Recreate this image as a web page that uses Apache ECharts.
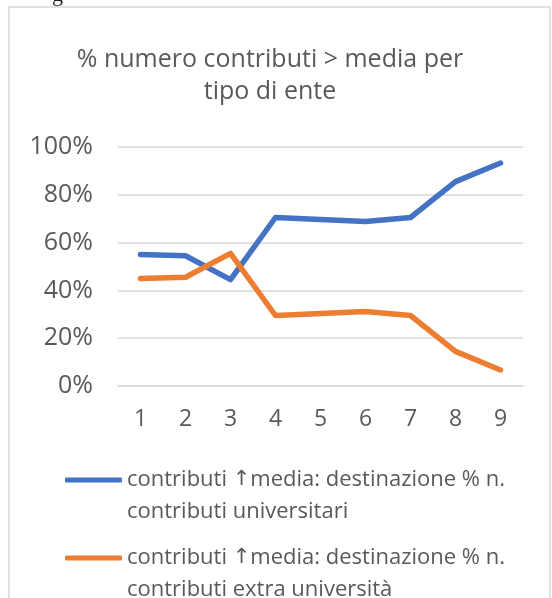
<!DOCTYPE html>
<html>
<head>
<meta charset="utf-8">
<script src="https://cdn.jsdelivr.net/npm/echarts@6/dist/echarts.min.js"></script>
<style>
    html, body { margin: 0; padding: 0; background: #fff; }
    #main { width: 552px; height: 598px; }
</style>
</head>
<body>
<div id="main"></div>
<script>
// categorie asse x
const categories = ['1', '2', '3', '4', '5', '6', '7', '8', '9']
// % universitari / extra università
const universitari = [55, 54.5, 44.5, 70.5, 69.7, 68.8, 70.5, 85.5, 93.3]
const extraUniversita = [45, 45.5, 55.5, 29.5, 30.3, 31.2, 29.5, 14.5, 6.7]
const seriesNames = [
    'contributi \u2191media: destinazione % n. contributi universitari',
    'contributi \u2191media: destinazione % n. contributi extra università'
]
const titleText = '% numero contributi > media per\ntipo di ente'

const textColor = '#595959'
const fontFamily = '"Open Sans", sans-serif'

// legenda: prima riga allineata con la linea, freccia in DejaVu
const legendLabel = (name) => {
    const wrapped = name.replace('% n. ', '% n.\n')
    const lines = wrapped.split('\n').map(l => l.replace('\u2191', '{arrow|\u2191}'))
    return '\n' + lines.join('\n')
}

const legendBase = {
    orient: 'vertical',
    left: 65,
    padding: 0,
    itemWidth: 57,
    itemHeight: 5,
    itemGap: 0,
    icon: 'roundRect',
    formatter: legendLabel,
    textStyle: {
        color: textColor,
        fontFamily: fontFamily,
        fontSize: 22,
        lineHeight: 32,
        rich: {
            arrow: {
                color: textColor,
                fontFamily: '"DejaVu Sans"',
                fontSize: 21,
                lineHeight: 32
            }
        }
    }
}

const chart = echarts.init(document.getElementById('main'))
chart.setOption({
    backgroundColor: '#fff',
    animation: false,
    title: {
        text: titleText,
        left: 270,
        top: 44,
        padding: 0,
        textAlign: 'center',
        textStyle: {
            color: textColor,
            fontFamily: fontFamily,
            fontWeight: 'normal',
            fontSize: 25,
            lineHeight: 32
        }
    },
    graphic: [
        {
            type: 'rect',
            shape: { x: 9, y: 7, width: 541, height: 640 },
            style: { fill: 'none', stroke: '#d9d9d9', lineWidth: 1.5 },
            silent: true
        },
        {
            type: 'text',
            x: 52,
            y: -16,
            style: { text: 'g', fill: '#222', font: '22px "Liberation Serif"' },
            silent: true
        }
    ],
    legend: [
        Object.assign({}, legendBase, { data: [seriesNames[0]], top: 432 }),
        Object.assign({}, legendBase, { data: [seriesNames[1]], top: 510 })
    ],
    grid: {
        left: 118,
        right: 29,
        top: 147,
        bottom: 212
    },
    xAxis: {
        type: 'category',
        data: categories,
        axisTick: { show: false },
        axisLine: { lineStyle: { color: '#d9d9d9', width: 1.5 } },
        axisLabel: {
            color: textColor,
            fontFamily: fontFamily,
            fontSize: 23,
            margin: 22
        }
    },
    yAxis: {
        type: 'value',
        min: 0,
        max: 100,
        interval: 20,
        axisLine: { show: false },
        axisTick: { show: false },
        splitLine: { lineStyle: { color: '#d9d9d9', width: 1.5 } },
        axisLabel: {
            formatter: '{value}%',
            color: textColor,
            fontFamily: fontFamily,
            fontSize: 25,
            margin: 25
        }
    },
    series: [
        {
            name: seriesNames[0],
            type: 'line',
            data: universitari,
            showSymbol: false,
            color: '#4472C4',
            lineStyle: { width: 5.5, cap: 'round', join: 'round' }
        },
        {
            name: seriesNames[1],
            type: 'line',
            data: extraUniversita,
            showSymbol: false,
            color: '#ED7D31',
            lineStyle: { width: 5.5, cap: 'round', join: 'round' }
        }
    ]
})
window.addEventListener('resize', () => {
    chart.resize()
})
</script>
</body>
</html>
